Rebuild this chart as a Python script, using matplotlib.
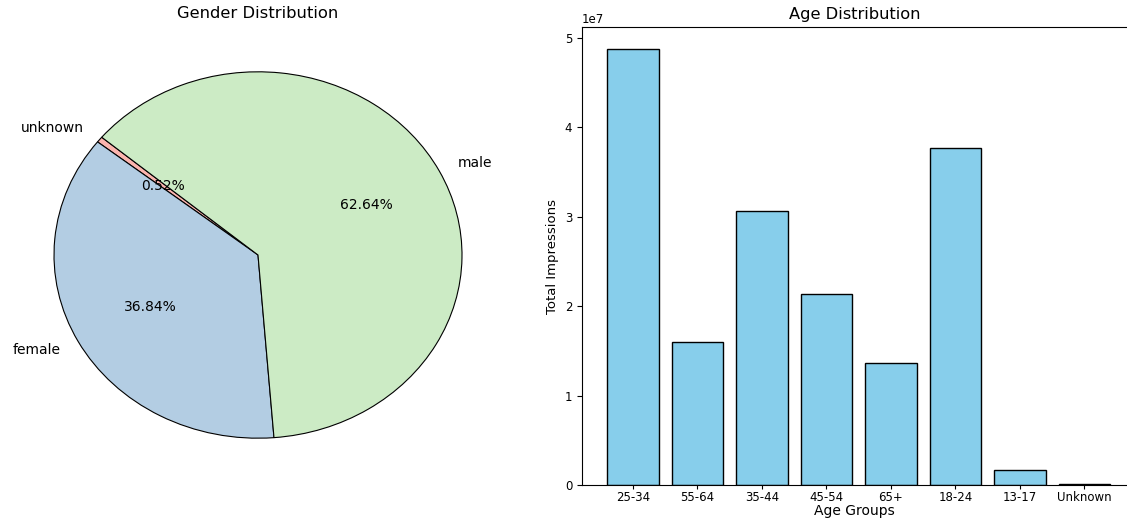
import numpy as np
import matplotlib
matplotlib.use("Agg")
import matplotlib.pyplot as plt

# Gender split (order as plotted, counter-clockwise from the start angle)
gender_labels = ["unknown", "female", "male"]
gender_share = [0.52, 36.84, 62.64]

# Impressions per age group
age_groups = ["25-34", "55-64", "35-44", "45-54", "65+", "18-24", "13-17", "Unknown"]
impressions = [4.88e7, 1.605e7, 3.06e7, 2.14e7, 1.365e7, 3.775e7, 0.17e7, 0.008e7]

fig = plt.figure(figsize=(11.27, 5.2), dpi=100)

# Pie chart
ax1 = fig.add_axes([3 / 1127, 36 / 520, 510 / 1127, 458 / 520])
colors = plt.cm.Pastel1.colors[:3]
ax1.pie(gender_share, labels=gender_labels, autopct="%1.2f%%", startangle=140,
        colors=colors, wedgeprops={"edgecolor": "black", "linewidth": 0.8},
        textprops={"fontsize": 10})
ax1.set_aspect("auto")
ax1.set_title("Gender Distribution", fontsize=11.8)

# Bar chart
ax2 = fig.add_axes([582 / 1127, 35 / 520, 545 / 1127, 458 / 520])
x = np.arange(len(age_groups))
ax2.bar(x, impressions, color="skyblue", edgecolor="black")
ax2.set_xticks(x)
ax2.set_xticklabels(age_groups, fontsize=8.5)
ax2.tick_params(axis="x", length=3, pad=1.5)
ax2.tick_params(axis="y", labelsize=8.5)
ax2.yaxis.get_offset_text().set_fontsize(8.5)
ax2.set_xlim(-0.79, 7.66)
ax2.spines["right"].set_visible(False)
ax2.set_xlabel("Age Groups", fontsize=10, labelpad=0)
ax2.set_ylabel("Total Impressions", fontsize=9.5)
ax2.set_title("Age Distribution", fontsize=11.7)

fig.savefig("out.png", dpi=100)
